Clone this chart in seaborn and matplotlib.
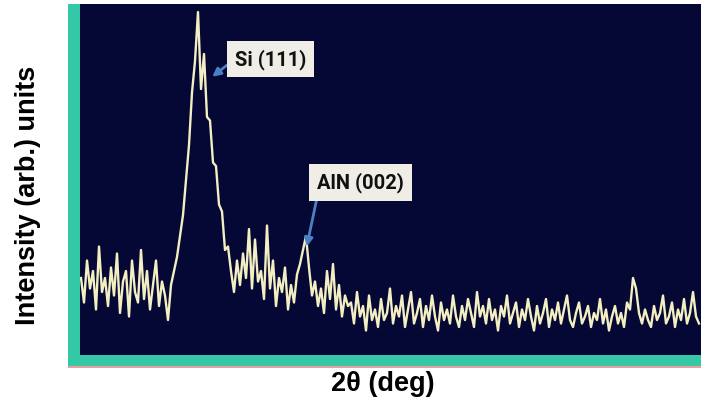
import numpy as np
import pandas as pd
import matplotlib
matplotlib.use("Agg")
import matplotlib.pyplot as plt
import seaborn as sns
from matplotlib.patches import Rectangle

# ---------------- data ----------------
theta_start = 20.0      # 2θ of the first sample (deg)
theta_step = 0.2        # sampling step (deg)

intensity = [
    22, 15, 27, 19, 24, 13, 31, 18, 22, 14,
    25, 17, 29, 12, 21, 24, 11, 27, 18, 15,
    30, 16, 24, 13, 20, 27, 14, 21, 17, 10,
    20, 24, 28, 34, 40, 50, 60, 75, 84, 98,
    76, 86, 68, 67, 55, 54, 43, 41, 30, 31,
    24, 18, 27, 20, 29, 22, 36, 19, 33, 21,
    24, 16, 37, 19, 27, 14, 22, 18, 25, 13,
    20, 15, 23, 26, 30, 34, 25, 17, 21, 14,
    19, 12, 24, 16, 26, 13, 20, 11, 17, 14,
    15, 9, 18, 11, 14, 7, 17, 10, 13, 8,
    16, 10, 12, 19, 9, 14, 11, 17, 8, 13,
    18, 9, 12, 16, 8, 14, 10, 17, 11, 7,
    15, 10, 13, 9, 17, 11, 8, 14, 10, 16,
    12, 8, 18, 11, 14, 9, 16, 10, 13, 7,
    14, 11, 17, 9, 12, 15, 8, 13, 10, 16,
    11, 7, 14, 9, 12, 16, 8, 13, 10, 15,
    9, 13, 17, 10, 8, 12, 15, 9, 11, 14,
    8, 12, 10, 16, 9, 13, 7, 11, 14, 9,
    12, 8, 15, 13, 22, 19, 12, 9, 13, 10,
    8, 14, 10, 12, 17, 9, 11, 15, 8, 13,
    10, 16, 9, 12, 18, 11, 9,
]
two_theta = theta_start + theta_step * np.arange(len(intensity))

peak_labels = ["Si (111)", "AlN (002)"]
peak_theta = [28.75, 35.05]
peak_int = [79.5, 31.0]
label_theta = [30.25, 35.75]
label_int = [84.6, 49.4]

df = pd.DataFrame({"two_theta": two_theta, "intensity": intensity})

# ---------------- figure ----------------
W, H = 701, 406
fig = plt.figure(figsize=(W / 100, H / 100), dpi=100)
fig.patch.set_facecolor("white")

def fr(x0, y0, x1, y1):
    # pixel box -> figure fraction [left, bottom, width, height]
    return [x0 / W, 1 - y1 / H, (x1 - x0) / W, (y1 - y0) / H]

teal = "#35c8a6"
navy = "#050834"
trace = "#f3efc2"

# teal frame behind the plot area
bg = fig.add_axes(fr(68, 5, 701, 367))
bg.set_facecolor(teal)
bg.set_xticks([]); bg.set_yticks([])
for s in bg.spines.values():
    s.set_visible(False)
fig.patches.append(Rectangle((68 / W, 1 - 369 / H), (701 - 68) / W, 2.5 / H,
                             transform=fig.transFigure, facecolor="#e9a0a0",
                             edgecolor="none"))

ax = fig.add_axes(fr(80, 5, 701, 356))
ax.set_facecolor(navy)
sns.lineplot(data=df, x="two_theta", y="intensity", ax=ax, color=trace,
             linewidth=1.7, estimator=None)
ax.set_xlim(theta_start - theta_step / 3, theta_start + (701 - 81) / 15)
ax.set_ylim(0, 100.3)
ax.set_xticks([]); ax.set_yticks([])
ax.set_xlabel(""); ax.set_ylabel("")
for s in ax.spines.values():
    s.set_visible(False)

# annotations
fam = ["Liberation Sans", "DejaVu Sans"]
box = dict(boxstyle="square,pad=0.4", facecolor="#efede6", edgecolor="none")
for i, lab in enumerate(peak_labels):
    arrow = dict(arrowstyle="-|>", color="#4a80c4", lw=2, mutation_scale=12,
                 shrinkA=0, shrinkB=0, relpos=(0.0, 0.5) if i == 0 else (0.03, 0.4))
    ax.annotate(lab, xy=(peak_theta[i], peak_int[i]),
                xytext=(label_theta[i], label_int[i]), textcoords="data",
                fontsize=14.5, fontweight="bold", family=["Roboto"] + fam,
                color="#111111", ha="left", va="center", bbox=box,
                arrowprops=arrow)

fig.text(383 / W, 1 - 384 / H, "2θ (deg)", ha="center", va="center",
         fontsize=19.5, fontweight="bold", family=fam)
fig.text(28 / W, 1 - 195 / H, "Intensity (arb.) units", ha="center", va="center",
         rotation=90, fontsize=19.5, fontweight="bold", family=fam)

fig.savefig("out.png", dpi=100)
